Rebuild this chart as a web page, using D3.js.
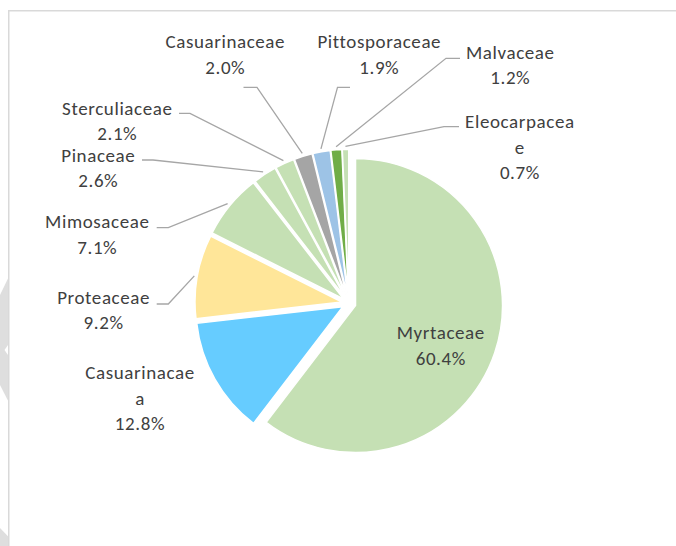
<!DOCTYPE html>
<html>
<head>
<meta charset="utf-8">
<script src="https://cdn.jsdelivr.net/npm/d3@7"></script>
<style>
  html, body { margin: 0; padding: 0; background: #fff; }
  svg { display: block; }
  text { font-family: Carlito, Calibri, Lato, "Open Sans", sans-serif; }
</style>
</head>
<body>
<svg id="chart" width="676" height="546"></svg>
<script>
// ---- data ----
const categories = ["Myrtaceae", "Casuarinacaea", "Proteaceae", "Mimosaceae", "Pinaceae",
                    "Sterculiaceae", "Casuarinaceae", "Pittosporaceae", "Malvaceae", "Eleocarpaceae"];
const values = [60.4, 12.8, 9.2, 7.1, 2.6, 2.1, 2.0, 1.9, 1.2, 0.7];
// label lines as wrapped in the original
const labelLines = [
  ["Myrtaceae", "60.4%"],
  ["Casuarinacae", "a", "12.8%"],
  ["Proteaceae", "9.2%"],
  ["Mimosaceae", "7.1%"],
  ["Pinaceae", "2.6%"],
  ["Sterculiaceae", "2.1%"],
  ["Casuarinaceae", "2.0%"],
  ["Pittosporaceae", "1.9%"],
  ["Malvaceae", "1.2%"],
  ["Eleocarpacea", "e", "0.7%"]
];
const colors = ["#C5E0B4", "#66CCFF", "#FFE699", "#C5E0B4", "#C5E0B4",
                "#C5E0B4", "#A5A5A5", "#9DC3E6", "#70AD47", "#C5E0B4"];

// ---- layout (label placement, leader elbows) ----
const labelPos = [
  [440.5, 339.3], [139.7, 379.3], [103.3, 304], [97, 228.3], [98, 161.7],
  [117, 115], [225, 48.3], [379, 48.3], [510, 59], [519.6, 128.3]
];
// leader: [stubStartX, elbowX, y]  (null = no leader)
const leaders = [
  null, null,
  [156.7, 168.3, 304], [156.7, 168.3, 227.7], [142, 153, 160],
  [179, 190, 113.3], [243.5, 257, 87.3], [350, 337.5, 87.3],
  [460, 446, 58.3], [459, 444, 126.7]
];

const svg = d3.select("#chart");

// watermark fragments at left edge
svg.append("polygon").attr("points", "0,295 8.7,277 8.7,402 0,385").attr("fill", "#DEDEDE");
svg.append("polygon").attr("points", "8.7,344 4.5,350 8.7,356").attr("fill", "#ffffff");
svg.append("polygon").attr("points", "0,528 8.7,537 8.7,546 0,546").attr("fill", "#DEDEDE");

// chart frame
svg.append("rect").attr("x", 8.75).attr("y", 10.75).attr("width", 720).attr("height", 600)
  .attr("fill", "none").attr("stroke", "#D9D9D9").attr("stroke-width", 1.5);

const cx = 348.9, cy = 303.3, R = 147, explode = 7;
const pie = d3.pie().sort(null).value(d => d)(values);
const arc = d3.arc().innerRadius(0).outerRadius(R);

const g = svg.append("g").attr("transform", `translate(${cx},${cy})`);

pie.forEach((p, i) => {
  const mid = (p.startAngle + p.endAngle) / 2;
  const dx = explode * Math.sin(mid), dy = -explode * Math.cos(mid);
  g.append("path")
    .attr("d", arc(p))
    .attr("transform", `translate(${dx},${dy})`)
    .attr("fill", colors[i])
    .attr("stroke", "#fff")
    .attr("stroke-width", 1.5)
    .attr("stroke-linejoin", "miter");
});

// leader lines
pie.forEach((p, i) => {
  const L = leaders[i];
  if (!L) return;
  const mid = (p.startAngle + p.endAngle) / 2;
  const rr = R + 3;
  const ex = cx + (explode + rr) * Math.sin(mid);
  const ey = cy - (explode + rr) * Math.cos(mid);
  svg.append("polyline")
    .attr("points", `${L[0]},${L[2]} ${L[1]},${L[2]} ${ex},${ey}`)
    .attr("fill", "none")
    .attr("stroke", "#A6A6A6")
    .attr("stroke-width", 1.3);
});

// labels
labelLines.forEach((lines, i) => {
  const t = svg.append("text")
    .attr("x", labelPos[i][0]).attr("y", labelPos[i][1])
    .attr("text-anchor", "middle")
    .attr("fill", "#404040")
    .style("font-size", "19px")
    .style("letter-spacing", "0.6px");
  lines.forEach((ln, k) => {
    t.append("tspan").attr("x", labelPos[i][0] + 0.3).attr("y", labelPos[i][1] + k * 25.4).text(ln);
  });
});
</script>
</body>
</html>
